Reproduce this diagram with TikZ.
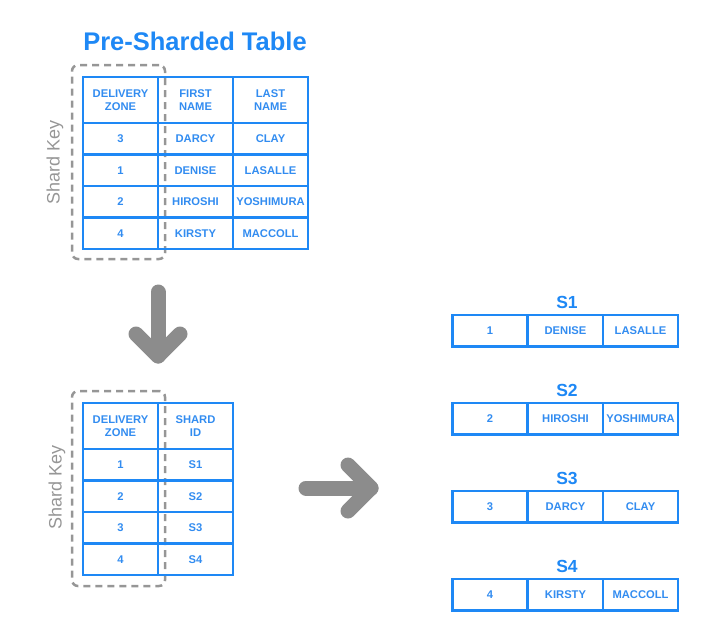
\documentclass[tikz,border=0pt]{standalone}
\usepackage{fontspec}
\setmainfont{Liberation Sans}
\definecolor{shardblue}{RGB}{30,136,245}
\definecolor{celltext}{RGB}{50,140,240}
\definecolor{keygray}{RGB}{150,150,150}
\definecolor{arrowgray}{RGB}{140,140,140}

\begin{document}
\begin{tikzpicture}[x=1pt,y=-1pt,
        cell/.style={draw=shardblue,line width=2.5pt,inner sep=0pt,minimum width=75pt,minimum height=31.5pt,
                     text=celltext,font=\fontsize{11.2}{12.5}\selectfont\bfseries,align=center},
        headcell/.style={cell,minimum height=46pt},
        keybox/.style={draw=keygray,line width=2.5pt,dash pattern=on 7pt off 5pt,rounded corners=6pt,
                       minimum width=93pt,minimum height=194pt},
        keylabel/.style={text=keygray,font=\fontsize{18}{19}\selectfont,rotate=90},
        biglabel/.style={text=shardblue,font=\fontsize{17.5}{18}\selectfont\bfseries},
        bigarrow/.style={draw=arrowgray,line width=15pt,line cap=round,line join=round}]

            \useasboundingbox (0,0) rectangle (719,621);

            % pre-sharded table
            \node[text=shardblue,font=\fontsize{25.5}{28}\selectfont\bfseries] (title) at (195,41) {Pre-Sharded Table};
            \node[keybox] (pre-key) at (118.5,162) {};
            \node[keylabel] (pre-keylabel) at (55,162) {Shard Key};
            \node[headcell] (pre-h1) at (120.5,100) {DELIVERY\\ZONE};
            \node[headcell] (pre-h2) at (195.5,100) {FIRST\\NAME};
            \node[headcell] (pre-h3) at (270.5,100) {LAST\\NAME};
            \foreach \zone/\first/\last [count=\r] in {3/DARCY/CLAY,1/DENISE/LASALLE,2/HIROSHI/YOSHIMURA,4/KIRSTY/MACCOLL}{
                \node[cell] (pre-\r-1) at (120.5,107.25+31.5*\r) {\zone};
                \node[cell] (pre-\r-2) at (195.5,107.25+31.5*\r) {\first};
                \node[cell] (pre-\r-3) at (270.5,107.25+31.5*\r) {\last};
            }

            % down arrow
            \coordinate (down-top) at (158,292);
            \coordinate (down-tip) at (158,356);
            \draw[bigarrow] (down-top) -- (down-tip);
            \draw[bigarrow] (down-tip) ++(-22,-22) -- (down-tip) -- ++(22,-22);

            % lookup table
            \node[keybox,minimum height=195pt] (map-key) at (118.5,488.5) {};
            \node[keylabel] (map-keylabel) at (57,487) {Shard Key};
            \node[headcell] (map-h1) at (120.5,426) {DELIVERY\\ZONE};
            \node[headcell] (map-h2) at (195.5,426) {SHARD\\ID};
            \foreach \zone [count=\r] in {1,2,3,4}{
                \node[cell] (map-\r-1) at (120.5,433.25+31.5*\r) {\zone};
                \node[cell] (map-\r-2) at (195.5,433.25+31.5*\r) {S\zone};
            }

            % right arrow
            \coordinate (right-tail) at (306,488);
            \coordinate (right-tip) at (371,488);
            \draw[bigarrow] (right-tail) -- (right-tip);
            \draw[bigarrow] (right-tip) ++(-23,-23) -- (right-tip) -- ++(-23,23);

            % shards
            \foreach \s/\zone/\first/\last [count=\r] in {S1/1/DENISE/LASALLE,S2/2/HIROSHI/YOSHIMURA,S3/3/DARCY/CLAY,S4/4/KIRSTY/MACCOLL}{
                \node[biglabel] (shard-\r-label) at (567,214.5+88*\r) {\s};
                \node[cell] (shard-\r-1) at (490,242.75+88*\r) {\zone};
                \node[cell] (shard-\r-2) at (565.5,242.75+88*\r) {\first};
                \node[cell] (shard-\r-3) at (640.5,242.75+88*\r) {\last};
            }

        \end{tikzpicture}
\end{document}
